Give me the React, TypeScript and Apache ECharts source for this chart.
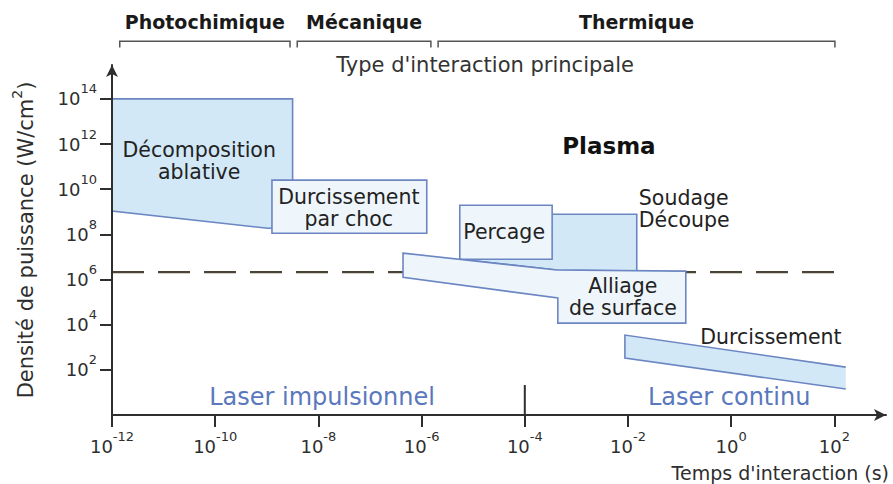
import React, { useEffect, useRef } from 'react';
import * as echarts from 'echarts';

// Axis ticks (exponents of ten)
const xTickExponents = [-12, -10, -8, -6, -4, -2, 0, 2];
const yTickExponents = [2, 4, 6, 8, 10, 12, 14];

// Regions: [log10 time (s), log10 power density (W/cm²)]
const ablationRegion = [[-12, 14], [-8.5, 14], [-8.5, 8.3], [-8.98, 8.27], [-12, 9.03]];
const shockHardeningRegion = [[-8.9, 10.4], [-5.9, 10.4], [-5.9, 8.05], [-8.9, 8.05]];
const weldingCuttingRegion = [[-5.26, 8.89], [-1.83, 8.89], [-1.83, 6.37], [-3.38, 6.42], [-5.26, 6.9]];
const drillingRegion = [[-5.26, 9.29], [-3.47, 9.29], [-3.47, 6.9], [-5.26, 6.9]];
const alloyingRegion = [[-6.36, 7.17], [-3.38, 6.42], [-0.88, 6.37], [-0.88, 4.07], [-3.36, 4.07], [-3.36, 5.18], [-6.36, 6.1]];
const hardeningRegion = [[-2.06, 3.54], [2.22, 2.12], [2.22, 1.15], [-2.06, 2.52]];
const plasmaThreshold = [[-12, 6.33], [2, 6.33]];

// Interaction types (header brackets, x extents in exponents)
const interactionTypes = ['Photochimique', 'Mécanique', 'Thermique'];
const interactionSpans = [[-11.85, -8.55], [-8.41, -5.82], [-5.68, 2.01]];
const headerBracketY = [16.28, 16.55];
const headerLabelY = 17.39;

// Pulsed / continuous boundary
const pulsedContinuousBoundary = [[-4, 0], [-4, 1.33]];

// Annotations
const annotationTexts = [
  'Décomposition\nablative',
  'Durcissement\npar choc',
  'Percage',
  'Soudage\nDécoupe',
  'Alliage\nde surface',
  'Durcissement',
  'Plasma',
  "Type d'interaction principale",
  'Laser impulsionnel',
  'Laser continu',
];
const annotationAt = [
  [-10.31, 11.24],
  [-7.41, 9.18],
  [-4.4, 8.1],
  [-1.79, 9.12],
  [-2.1, 5.22],
  [0.77, 3.45],
  [-2.37, 11.9],
  [-4.77, 15.49],
  [-7.93, 0.8],
  [-0.04, 0.8],
];

const FONT = 'DejaVu Sans';
const DARK_FILL = '#d2e8f7';
const LIGHT_FILL = '#eef6fc';
const EDGE = '#6b86c2';
const AXIS = '#2e2e2e';

const regions = [
  { pts: ablationRegion, fill: DARK_FILL, open: false },
  { pts: shockHardeningRegion, fill: LIGHT_FILL, open: false },
  { pts: weldingCuttingRegion, fill: DARK_FILL, open: false },
  { pts: drillingRegion, fill: LIGHT_FILL, open: false },
  { pts: alloyingRegion, fill: LIGHT_FILL, open: false },
  { pts: hardeningRegion, fill: DARK_FILL, open: true },
];

const annotationStyles = [
  { size: 20.5, weight: 'normal', color: '#222', align: 'center' },
  { size: 20.5, weight: 'normal', color: '#222', align: 'center' },
  { size: 20.5, weight: 'normal', color: '#222', align: 'center' },
  { size: 20.5, weight: 'normal', color: '#222', align: 'left' },
  { size: 20.5, weight: 'normal', color: '#222', align: 'center' },
  { size: 20.5, weight: 'normal', color: '#222', align: 'center' },
  { size: 23, weight: 'bold', color: '#111', align: 'center' },
  { size: 21, weight: 'normal', color: '#333', align: 'center' },
  { size: 24, weight: 'normal', color: '#5a78bd', align: 'center' },
  { size: 24, weight: 'normal', color: '#5a78bd', align: 'center' },
];

const powLabel = (v: number) => `{b|10}{s|${v}}`;

export default function App() {
  const ref = useRef<HTMLDivElement>(null);
  useEffect(() => {
    if (!ref.current) return;
    const chart = echarts.init(ref.current, undefined, { renderer: 'svg' });
    const supRich = {
      b: { fontSize: 18, fontFamily: FONT, color: AXIS },
      s: { fontSize: 13, fontFamily: FONT, color: AXIS, padding: [0, 0, 20, 0] },
    };
    const option: any = {
      animation: false,
      backgroundColor: '#ffffff',
      grid: { left: 112, right: 7, top: 65, bottom: 69, containLabel: false, outerBoundsMode: 'none' },
      xAxis: {
        type: 'value',
        min: -12,
        max: 3,
        z: 5,
        axisLine: {
          show: true,
          onZero: false,
          lineStyle: { color: AXIS, width: 2 },
          symbol: ['none', 'arrow'],
          symbolSize: [9, 12],
        },
        axisTick: { show: true, length: 12, lineStyle: { color: AXIS, width: 2 }, customValues: xTickExponents },
        axisLabel: {
          customValues: xTickExponents,
          margin: 15,
          formatter: (v: number) => powLabel(v),
          rich: supRich,
        },
        splitLine: { show: false },
        name: "Temps d'interaction (s)",
        nameLocation: 'end',
        nameGap: 3,
        nameTextStyle: {
          fontFamily: FONT,
          fontSize: 19,
          color: AXIS,
          align: 'right',
          verticalAlign: 'top',
          padding: [48, 0, 0, 0],
        },
      },
      yAxis: {
        type: 'value',
        min: 0,
        max: 15.5,
        z: 5,
        axisLine: {
          show: true,
          onZero: false,
          lineStyle: { color: AXIS, width: 2 },
          symbol: ['none', 'arrow'],
          symbolSize: [9, 12],
        },
        axisTick: { show: true, length: 12, lineStyle: { color: AXIS, width: 2 }, customValues: yTickExponents },
        axisLabel: {
          customValues: yTickExponents,
          margin: 15,
          formatter: (v: number) => powLabel(v),
          rich: supRich,
        },
        splitLine: { show: false },
        name: '{a|Densité de puissance (W/cm}{s|2}{a|)}',
        nameLocation: 'middle',
        nameGap: 70,
        nameTextStyle: {
          rich: {
            a: { fontFamily: FONT, fontSize: 21, color: AXIS },
            s: { fontFamily: FONT, fontSize: 14, color: AXIS, padding: [0, 0, 18, 0] },
          },
        },
      },
      series: [
        {
          type: 'line',
          z: 1,
          data: plasmaThreshold,
          symbol: 'none',
          silent: true,
          lineStyle: { color: '#4b4336', width: 2.2, type: [32, 14] },
        },
        {
          type: 'custom',
          z: 2,
          silent: true,
          data: regions.map((r) => r.pts[0]),
          encode: { x: 0, y: 1 },
          renderItem: (params: any, api: any) => {
            const r = regions[params.dataIndex];
            const pts = r.pts.map((p) => api.coord(p));
            if (r.open) {
              return {
                type: 'group',
                children: [
                  { type: 'polygon', shape: { points: pts }, style: { fill: r.fill, stroke: 'none' } },
                  {
                    type: 'polyline',
                    shape: { points: [pts[1], pts[0], pts[3], pts[2]] },
                    style: { fill: 'none', stroke: EDGE, lineWidth: 1.6 },
                  },
                ],
              };
            }
            return {
              type: 'polygon',
              shape: { points: pts },
              style: { fill: r.fill, stroke: EDGE, lineWidth: 1.6 },
            };
          },
        },
        {
          type: 'custom',
          z: 3,
          silent: true,
          data: interactionSpans.map((s) => [s[0], headerBracketY[1]]),
          encode: { x: 0, y: 1 },
          renderItem: (params: any, api: any) => {
            const s = interactionSpans[params.dataIndex];
            const a = api.coord([s[0], headerBracketY[0]]);
            const b = api.coord([s[0], headerBracketY[1]]);
            const c = api.coord([s[1], headerBracketY[1]]);
            const d = api.coord([s[1], headerBracketY[0]]);
            const t = api.coord([(s[0] + s[1]) / 2, headerLabelY]);
            return {
              type: 'group',
              children: [
                {
                  type: 'polyline',
                  shape: { points: [a, b, c, d] },
                  style: { fill: 'none', stroke: '#555', lineWidth: 1.5 },
                },
                {
                  type: 'text',
                  x: t[0],
                  y: t[1],
                  style: {
                    text: interactionTypes[params.dataIndex],
                    fontFamily: FONT,
                    fontSize: 19,
                    fontWeight: 'bold',
                    fill: '#1a1a1a',
                    align: 'center',
                    verticalAlign: 'middle',
                  },
                },
              ],
            };
          },
        },
        {
          type: 'custom',
          z: 3,
          silent: true,
          data: [pulsedContinuousBoundary[0]],
          encode: { x: 0, y: 1 },
          renderItem: (params: any, api: any) => {
            const p0 = api.coord(pulsedContinuousBoundary[0]);
            const p1 = api.coord(pulsedContinuousBoundary[1]);
            return {
              type: 'line',
              shape: { x1: p0[0], y1: p0[1], x2: p1[0], y2: p1[1] },
              style: { stroke: AXIS, lineWidth: 2 },
            };
          },
        },
        {
          type: 'custom',
          z: 4,
          silent: true,
          data: annotationAt,
          encode: { x: 0, y: 1 },
          renderItem: (params: any, api: any) => {
            const i = params.dataIndex;
            const st = annotationStyles[i];
            const p = api.coord(annotationAt[i]);
            return {
              type: 'text',
              x: p[0],
              y: p[1],
              style: {
                text: annotationTexts[i],
                fontFamily: FONT,
                fontSize: st.size,
                fontWeight: st.weight,
                fill: st.color,
                align: st.align,
                verticalAlign: 'middle',
                lineHeight: 22,
              },
            };
          },
        },
      ],
    };
    chart.setOption(option);
    return () => chart.dispose();
  }, []);
  return (
    <div
      ref={ref}
      style={{ position: 'fixed', left: 0, top: 0, width: 893, height: 484, background: '#fff' }}
    />
  );
}
